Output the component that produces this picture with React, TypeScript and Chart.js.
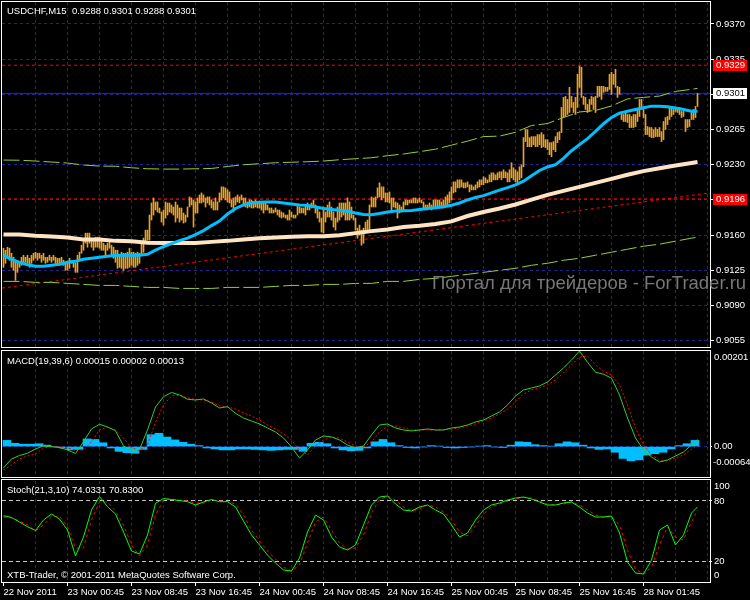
import React, { useEffect, useRef } from "react";
import { Chart, registerables } from "chart.js";
Chart.register(...registerables);

const FONT = "'Liberation Sans', Arial, sans-serif";
const FS = 9.5;

// ---- time axis (M15 bars, bar 0 = 22 Nov 2011 16:45) ----
const xTickBars = [0, 32, 64, 96, 128, 160, 192, 224, 256, 288, 320];
const xTickLabels = ["22 Nov 2011", "23 Nov 00:45", "23 Nov 08:45", "23 Nov 16:45", "24 Nov 00:45", "24 Nov 08:45", "24 Nov 16:45", "25 Nov 00:45", "25 Nov 08:45", "25 Nov 16:45", "28 Nov 01:45"];
const X_MIN = -0.75;
const X_MAX = 353.25;
const LAST_BAR = 347;

// ---- price bars: high / low in pips above 0.9000 ----
const barHigh = [
  147,145,148,147,142,138,135,133,133,138, 140,138,140,137,140,142,143,142,142,140,
  142,138,138,140,138,140,138,137,137,138, 135,133,132,137,135,133,132,140,143,150,
  155,162,162,162,157,155,158,158,158,155, 152,150,152,153,150,148,145,145,140,143,
  142,142,143,147,143,143,142,143,142,153, 157,165,165,180,192,197,193,193,187,183,
  185,193,192,192,190,188,193,190,187,187, 182,180,188,198,197,195,193,197,200,202,
  200,197,198,198,195,193,197,193,202,208, 208,207,205,203,195,197,198,200,198,200,
  197,197,193,195,195,193,195,193,193,193, 192,193,190,187,187,185,187,185,185,183,
  182,180,180,185,183,180,180,190,188,187, 187,190,192,190,192,195,190,187,183,177,
  188,183,190,193,188,183,177,188,192,192, 192,192,197,193,188,180,177,167,170,165,
  167,173,175,190,198,197,198,207,212,208, 208,202,202,203,197,197,193,192,190,188,
  193,195,195,195,195,197,197,195,197,195, 193,190,190,192,190,195,195,195,195,193,
  195,198,200,203,208,213,213,215,215,215, 212,212,213,210,210,208,210,213,215,215,
  218,217,215,220,222,222,220,222,223,223, 225,223,222,225,232,227,225,223,228,230,
  257,265,265,257,258,258,258,260,260,262, 260,255,255,252,252,253,258,262,263,287,
  297,298,295,307,298,292,297,320,328,327, 298,297,290,295,298,297,298,308,308,308,
  308,307,307,320,322,320,325,308,307,282, 280,282,280,280,278,280,280,285,295,295,
  285,280,268,267,267,265,267,265,267,263, 273,277,278,287,287,285,287,287,287,283,
  283,275,275,275,283,285,288,301
];
const barLow = [
  128,132,137,135,128,125,115,123,128,130, 132,133,132,128,132,135,137,135,137,133,
  135,132,133,135,133,135,132,130,130,132, 130,125,125,127,132,128,123,123,135,142,
  145,152,148,152,148,145,148,148,147,145, 145,140,145,147,140,137,133,127,128,127,
  125,127,127,128,130,128,128,130,132,140, 143,152,155,155,175,180,185,183,182,173,
  170,177,180,183,182,180,173,177,173,175, 172,173,178,188,190,168,182,182,192,192,
  193,188,192,190,187,185,185,185,193,195, 197,195,193,192,188,183,190,193,192,195,
  190,188,187,188,187,187,188,187,187,185, 182,185,185,182,182,182,183,180,178,177,
  178,177,175,175,178,177,177,180,182,182, 182,180,185,185,187,188,182,177,173,163,
  162,173,178,178,175,168,165,173,175,178, 180,175,175,175,177,175,165,157,160,150,
  152,162,165,165,188,188,188,197,198,195, 197,193,193,192,185,188,187,177,182,183,
  185,190,190,192,192,192,192,192,193,192, 187,185,185,187,185,187,188,188,187,187,
  187,188,190,192,195,202,203,207,207,208, 207,207,208,203,205,205,205,207,208,210,
  210,212,212,213,213,215,215,215,217,215, 217,217,213,213,217,215,213,212,215,217,
  228,253,248,248,248,250,248,248,250,247, 248,247,245,240,238,245,243,252,255,262,
  277,278,280,282,287,282,280,287,307,297, 290,285,282,283,290,285,282,297,298,295,
  302,303,303,305,300,310,307,297,300,275, 273,273,272,267,267,267,268,273,278,285,
  277,260,260,258,257,257,258,258,258,253, 255,265,270,275,278,280,283,282,280,277,
  278,263,267,268,275,275,277,288
];

// ---- moving averages / envelopes (pips above 0.9000) ----
// fast MA, every 4 bars + last bar
const fastMA = [
  140,136,133,130.5,129,129,130,131,133,134, 136,137,138,139,140,140,140,140,141,145,
  148.5,151.5,154.5,157,160.5,164.5,169.5,174,181,186.5, 190,192.3,192.8,193,193,192,191,190,189.6,188,
  186.5,185.6,184.8,183.7,182,180.6,180.4,181.5,183,184, 184.3,184.5,185.6,186.4,187.2,188.3,189.8,192,195,197.5,
  199.3,202,204.7,207.3,210,213.7,219,224.3,227.8,230, 236.3,244,250,256,263.3,270.8,277,281.4,283.3,285,
  286.7,288.3,288.3,287.6,286.5,285,283.3,283.3
];
// slow MA, every 8 bars + last bar
const slowMA = [
  160.7,160.7,159.3,158.7,157.7,155.7,155.7,154.3,154,152.5, 152.3,152.3,152.3,153.3,154.3,155.7,157,157.7,158.5,159,
  159,160,162,164,165.7,168,169.3,171,173.7,179, 183,186.5,190.5,195.3,200,204,208,212,216,220,
  223.7,226.6,229.2,231.8,232.7
];
// envelope bands, every 8 bars + last bar
const envUpper = [
  234.7,234.5,233.7,232.7,231.7,229.7,228.7,228.5,227,226, 225.7,225.7,226,226.3,228.3,230,231,232,232.5,233,
  233.7,235,236,237,239,240.7,243,245.5,249.5,253.5, 258,258.5,262.3,269,271,277,282.5,284,288.5,295.5,
  297,298.3,303,305,306
];
const envLower = [
  114,114,113,113,112,111,110,110,109,108, 108,107,107,107,108,108,108,109,110,110,
  111,111,112,112,114,114,116,117,119,121, 123,125,127,130,132,135,137,140,143,146,
  149,151,154,157,158
];

// ---- chart objects ----
const trendBars = [X_MIN, X_MAX];
const trendPrices = [0.91073, 0.92020];
const redLevels = [0.9329, 0.9196];
const bidPrice = 0.9301;
const priceTicks = [0.9370, 0.9335, 0.9300, 0.9265, 0.9230, 0.9195, 0.9160, 0.9125, 0.9090, 0.9055];

// ---- MACD(19,39,6), units of 0.00001, every 4 bars + last bar ----
const macdMain = [
  -45,-26.1,-18.7,-14.1,-5,1.3,-0.4,-2.1,-7.2,-14.5,
  10.3,37,46.9,41.2,33.4,1.3,-8.2,-6.1,34.9,83.3,
  104.9,113.8,108.5,99.5,98,100.1,91.7,81.2,83.9,70,
  60.1,53.8,
  47.5,39.1,30.7,18.1,-0.8,-24,-7.2,13.9,22.3,20.2,
  13.9,3.4,-2.9,1.3,24.4,45.4,47.5,39.1,34.9,32.8,
  34.9,37,34.9,34.9,39.1,41.2,45.4,51.7,55.9,64.4,
  72.8,87.5,106.4,119,123.3,127.5,135.9,150.6,165.4,182.2,
  201,177.4,156.4,152.2,143.8,108.5,60.1,18.1,-7.2,-21.9,
  -32.4,-28.2,-19.8,-11.4,3.4,
  15
];
const macdSignal = [
  -49.3,-38.7,-26.1,-19.8,-15.6,-2.9,-0.2,-0.2,-2.9,-7.2,
  -7.2,9.7,34.9,41.2,34.9,18.1,-2.9,-8.2,3.4,51.7,
  87.5,106.4,108.5,102.2,99.1,98,93.8,85.4,83.3,79.1,
  70.7,64.4,
  55.9,45.4,37,26.5,13.9,-7.2,-17.7,1.3,13.9,20.2,
  18.1,9.7,1.3,-0.8,9.7,30.7,43.3,43.3,39.1,34.9,
  34.9,34.9,34.9,34.9,37,39.1,43.3,47.5,53.8,60.1,
  68.6,79.1,93.8,110.6,119,123.3,129.6,140.1,154.8,171.6,
  188.4,190.5,171.6,159,150.6,129.6,87.5,39.1,3.4,-17.7,
  -28.2,-30.3,-24,-17.7,-5,
  2
];
// histogram, one value per 4-bar block
const macdHist = [
  13,7,5,5,6,3,0,-3,-7,-6,
  16,15,8,-3,-10,-13,-14,-6,25,28,
  20,14,9,5,2,-3,-5,-7,-7,-5,
  -5,-6,-7,-8,-7,-6,-6,-10,7,9,
  6,-3,-7,-9,-8,-3,10,15,8,2,
  -2,-3,-1,2,1,-2,-3,-2,-1,1,
  2,-1,-2,3,10,9,4,2,1,6,
  10,8,3,-3,-6,-5,-12,-25,-30,-28,
  -18,-15,-12,-5,2,6,13
];
const MACD_MAX = 0.00201;
const MACD_MIN = -0.00064;

// ---- Stochastic(21,3,10), every 4 bars + last bar ----
const stochMain = [
  65.3,63.5,59,54.3,50.5,61,67,62,51,25,
  44,71,84.5,74.3,67,49,30,27,46,77.7,
  82.5,81.5,80.5,79.3,76,79,81.5,79.3,79.3,74,
  60,46,
  36,26,18,11,10,23,49,66,61,44,
  34,31,36,56,76,84,85,77,71,70,
  74,76,71,67,56,44,48,61,71,76,
  78,81,83,84,82,79,76,76,78,79,
  74,68,64,64,65,48,19,8,7,21,
  51,56,36,46,68,
  74.03
];
const stochSignal = [
  64,63,60,56,50,56,64,65,54,33,
  33,61,79,79,70,56,36,25,36,66,
  81,82,81,80,78,78,81,80,79.5,77,
  66,51,
  40,30,22,14,10,16,38,59,64,51,
  38,32,33,46,68,81,85,81,74,70,
  72,76,74,69,61,49,45,55,67,74,
  77,80,82,83.5,83,80,77,76,77,79,
  76,71,66,64,65,56,31,12,7,14,
  36,54,44,41,59,
  70.83
];

function sampleBars(step: number, count: number): number[] {
  const out: number[] = [];
  for (let i = 0; i < count - 1; i++) out.push(i * step);
  out.push(LAST_BAR);
  return out;
}
const pip = (v: number) => 0.9 + v / 10000;

const GRID = "#23238f";

function zeroPad(s: any) {
  s.paddingLeft = 0; s.paddingRight = 0; s.paddingTop = 0; s.paddingBottom = 0;
}

function xScale(display: boolean) {
  return {
    type: "linear" as const,
    min: X_MIN,
    max: X_MAX,
    offset: false,
    display,
    afterBuildTicks: (s: any) => { s.ticks = xTickBars.map((v) => ({ value: v })); },
    afterFit: (s: any) => { s.height = display ? 18 : 0; zeroPad(s); },
    ticks: {
      autoSkip: false, maxRotation: 0, minRotation: 0, align: "start" as const,
      color: "#ffffff", font: { family: FONT, size: FS }, padding: 1,
      callback: (v: any) => { const i = xTickBars.indexOf(v); return i >= 0 ? xTickLabels[i] : ""; },
    },
    grid: { display: true, drawOnChartArea: false, drawTicks: true, tickLength: 4, tickColor: "#ffffff", color: "#ffffff", offset: false },
    border: { display: false },
  };
}

function yScale(min: number, max: number, ticks: number[], fmt: (v: number) => string, tickLen: number) {
  return {
    type: "linear" as const,
    position: "right" as const,
    min, max,
    afterBuildTicks: (s: any) => { s.ticks = ticks.map((v) => ({ value: v })); },
    afterFit: (s: any) => { s.width = 40; zeroPad(s); },
    ticks: { color: "#ffffff", font: { family: FONT, size: FS }, padding: 2, callback: (v: any) => fmt(Number(v)) },
    grid: { display: true, drawOnChartArea: false, drawTicks: true, tickLength: tickLen, tickColor: "#ffffff", color: "#ffffff" },
    border: { display: false },
  };
}

type PanelOpts = {
  id: string;
  hGrid: number[];
  levels?: number[];
  borderTop: number;
  borderBottom: number;
  after?: (chart: any) => void;
};

function panelPlugin(o: PanelOpts) {
  return {
    id: o.id,
    beforeDraw(chart: any) {
      const ctx = chart.ctx;
      ctx.save();
      ctx.fillStyle = "#000";
      ctx.fillRect(0, 0, chart.width, chart.height);
      ctx.restore();
    },
    beforeDatasetsDraw(chart: any) {
      const ctx = chart.ctx;
      const a = chart.chartArea;
      const xs = chart.scales.x;
      const ys = chart.scales.y;
      ctx.save();
      ctx.strokeStyle = GRID;
      ctx.lineWidth = 1;
      ctx.setLineDash([3, 3]);
      for (let b = 16; b < X_MAX; b += 16) {
        const px = Math.round(xs.getPixelForValue(b) - 0.5) + 0.5;
        ctx.beginPath(); ctx.moveTo(px, a.top); ctx.lineTo(px, a.bottom); ctx.stroke();
      }
      for (const v of o.hGrid) {
        const py = Math.round(ys.getPixelForValue(v) - 0.5) + 0.5;
        ctx.beginPath(); ctx.moveTo(a.left, py); ctx.lineTo(a.right, py); ctx.stroke();
      }
      if (o.levels) {
        ctx.strokeStyle = "#c8c8c8";
        ctx.setLineDash([4, 3]);
        for (const v of o.levels) {
          const py = Math.round(ys.getPixelForValue(v) - 0.5) + 0.5;
          ctx.beginPath(); ctx.moveTo(a.left, py); ctx.lineTo(a.right, py); ctx.stroke();
        }
      }
      ctx.restore();
    },
    afterDraw(chart: any) {
      const ctx = chart.ctx;
      ctx.save();
      ctx.strokeStyle = "#ffffff";
      ctx.lineWidth = 1;
      ctx.setLineDash([]);
      ctx.strokeRect(1.5, o.borderTop + 0.5, 709, o.borderBottom - o.borderTop);
      ctx.restore();
      if (o.after) { ctx.save(); o.after(chart); ctx.restore(); }
    },
  };
}

function text(ctx: any, s: string, x: number, y: number, color = "#ffffff", size = FS, base = "alphabetic") {
  ctx.font = `${size}px ${FONT}`;
  ctx.fillStyle = color;
  ctx.textBaseline = base;
  ctx.textAlign = "left";
  ctx.fillText(s, x, y);
}

const lineDs = (label: string, xs: number[], ys: number[], color: string, width: number, dash: number[] = []) => ({
  type: "line" as const,
  label,
  data: xs.map((x, i) => ({ x, y: ys[i] })),
  borderColor: color,
  backgroundColor: color,
  borderWidth: width,
  borderDash: dash,
  pointRadius: 0,
  tension: 0,
  fill: false,
});

export default function App() {
  const r1 = useRef<HTMLCanvasElement>(null);
  const r2 = useRef<HTMLCanvasElement>(null);
  const r3 = useRef<HTMLCanvasElement>(null);

  useEffect(() => {
    const maBars4 = sampleBars(4, fastMA.length);
    const bars8 = sampleBars(8, slowMA.length);
    const env8 = sampleBars(8, envUpper.length);
    const ind4 = sampleBars(4, macdMain.length);
    const st4 = sampleBars(4, stochMain.length);

    const common = {
      responsive: false,
      maintainAspectRatio: false,
      animation: false as const,
      devicePixelRatio: 1,
      events: [] as any[],
      plugins: { legend: { display: false }, tooltip: { enabled: false } },
    };

    const main = new Chart(r1.current!, {
      type: "bar",
      data: {
        datasets: [
          lineDs("MA fast", maBars4, fastMA.map(pip), "#00bfff", 3),
          lineDs("MA slow", bars8, slowMA.map(pip), "#ffe4c4", 4),
          lineDs("Env up", env8, envUpper.map(pip), "#9acd32", 1, [16, 4]),
          lineDs("Env low", env8, envLower.map(pip), "#9acd32", 1, [16, 4]),
          {
            type: "bar" as const,
            label: "bars",
            data: barHigh.map((h, i) => ({ x: i, y: [pip(barLow[i]), pip(h)] })),
            backgroundColor: "#eba028",
            borderWidth: 0,
            barThickness: 1,
            grouped: false,
          } as any,
          lineDs("trend", trendBars, trendPrices, "#ff0000", 1, [3, 3]),
          lineDs("lvl1", [X_MIN, X_MAX], [redLevels[0], redLevels[0]], "#ff0000", 1, [3, 3]),
          lineDs("lvl2", [X_MIN, X_MAX], [redLevels[1], redLevels[1]], "#ff0000", 1, [3, 3]),
          lineDs("bid", [X_MIN, X_MAX], [bidPrice, bidPrice], "#2b2ba0", 1),
        ],
      },
      options: {
        ...common,
        layout: { padding: { left: 2, top: 2, bottom: 2, right: 0 } },
        scales: {
          x: xScale(false),
          y: yScale(0.904874, 0.939188, priceTicks, (v) => v.toFixed(4), 4),
        },
      },
      plugins: [panelPlugin({
        id: "pmain", hGrid: priceTicks, borderTop: 1, borderBottom: 347,
        after: (chart) => {
          const ctx = chart.ctx;
          const ys = chart.scales.y;
          text(ctx, "USDCHF,M15  0.9288 0.9301 0.9288 0.9301", 7, 14);
          const boxes = [
            { v: redLevels[0], bg: "#ff0000", fg: "#ffffff" },
            { v: bidPrice, bg: "#ffffff", fg: "#000000" },
            { v: redLevels[1], bg: "#ff0000", fg: "#ffffff" },
          ];
          for (const b of boxes) {
            const y = Math.round(ys.getPixelForValue(b.v));
            ctx.fillStyle = b.bg;
            ctx.fillRect(713, y - 5, 34, 11);
            text(ctx, b.v.toFixed(4), 716, y + 0.5, b.fg, FS, "middle");
          }
          ctx.globalAlpha = 0.85;
          text(ctx, "Портал для трейдеров - ForTrader.ru", 432, 289, "#8c8c8c", 18.5);
        },
      })],
    } as any);

    const macd = new Chart(r2.current!, {
      type: "bar",
      data: {
        datasets: [
          lineDs("MACD", ind4, macdMain.map((v) => v / 100000), "#32cd32", 1),
          lineDs("Signal", ind4, macdSignal.map((v) => v / 100000), "#ff0000", 1, [2, 2]),
          {
            type: "bar" as const,
            label: "hist",
            data: macdHist.map((v, i) => ({ x: i * 4 + 1.75, y: [0, v / 100000] })),
            backgroundColor: "#00bfff",
            borderWidth: 0,
            barThickness: 8,
            grouped: false,
          } as any,
        ],
      },
      options: {
        ...common,
        layout: { padding: { left: 2, top: 2, bottom: 2, right: 0 } },
        scales: {
          x: xScale(false),
          y: yScale(MACD_MIN, MACD_MAX, [0], () => "0.00", 2),
        },
      },
      plugins: [panelPlugin({
        id: "pmacd", hGrid: [0], borderTop: 1, borderBottom: 128,
        after: (chart) => {
          const ctx = chart.ctx;
          text(ctx, "MACD(19,39,6) 0.00015 0.00002 0.00013", 7, 15);
          text(ctx, MACD_MAX.toFixed(5), 714, 8.5, "#ffffff", FS, "middle");
          text(ctx, MACD_MIN.toFixed(5), 713, 113, "#ffffff", FS, "middle");
        },
      })],
    } as any);

    const stoch = new Chart(r3.current!, {
      type: "line",
      data: {
        datasets: [
          lineDs("Main", st4, stochMain, "#00ff00", 1),
          lineDs("Signal", st4, stochSignal, "#ff0000", 1, [3, 3]),
        ],
      },
      options: {
        ...common,
        layout: { padding: { left: 2, top: 2, bottom: 0, right: 0 } },
        scales: {
          x: xScale(true),
          y: yScale(-1, 100, [20, 80], (v) => String(v), 2),
        },
      },
      plugins: [panelPlugin({
        id: "pstoch", hGrid: [], levels: [20, 80], borderTop: 0, borderBottom: 103,
        after: (chart) => {
          const ctx = chart.ctx;
          text(ctx, "Stoch(21,3,10) 74.0331 70.8300", 7, 14);
          text(ctx, "100", 714, 7, "#ffffff", FS, "middle");
          text(ctx, "0", 714, 96.5, "#ffffff", FS, "middle");
          text(ctx, "XTB-Trader, © 2001-2011 MetaQuotes Software Corp.", 7, 98.5);
        },
      })],
    } as any);

    return () => { main.destroy(); macd.destroy(); stoch.destroy(); };
  }, []);

  return (
    <div style={{ position: "absolute", left: 0, top: 0, width: 750, height: 600, background: "#000", overflow: "hidden" }}>
      <canvas ref={r1} width={750} height={349} style={{ position: "absolute", left: 0, top: 0, width: 750, height: 349 }} />
      <canvas ref={r2} width={750} height={130} style={{ position: "absolute", left: 0, top: 349, width: 750, height: 130 }} />
      <canvas ref={r3} width={750} height={121} style={{ position: "absolute", left: 0, top: 479, width: 750, height: 121 }} />
    </div>
  );
}
